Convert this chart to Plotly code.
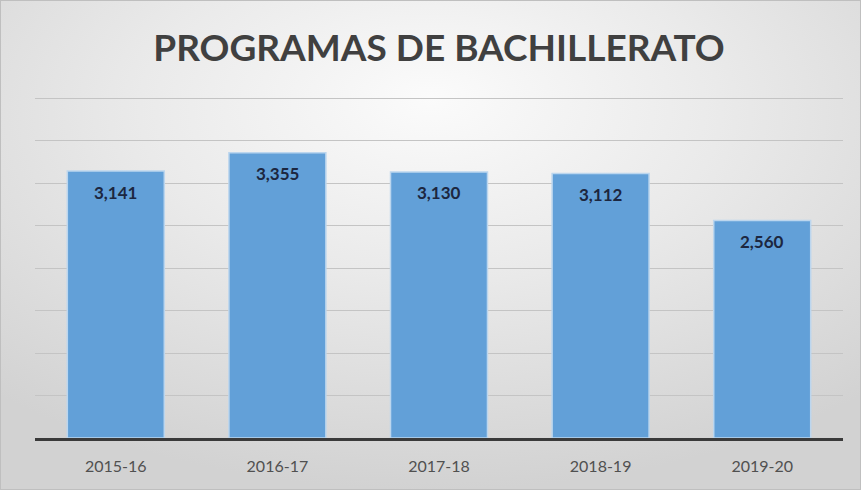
import base64

import plotly.graph_objects as go

categories = ["2015-16", "2016-17", "2017-18", "2018-19", "2019-20"]
values = [3141, 3355, 3130, 3112, 2560]
labels = [f"{v:,}" for v in values]

W, H = 861, 490
M = dict(l=35, r=18, t=93, b=52)
PW = W - M["l"] - M["r"]
PH = H - M["t"] - M["b"]
Y_TOP = PH / 0.085  # keeps 500 units ~ 42.5 px, leaves the 4000 gridline visible

# soft radial background, like the spreadsheet chart area
bg_svg = f"""<svg xmlns='http://www.w3.org/2000/svg' width='{W}' height='{H}'>
<defs><radialGradient id='g' cx='0.5' cy='0.25' r='0.75' fx='0.5' fy='0.2'>
<stop offset='0' stop-color='#fbfbfb'/>
<stop offset='0.45' stop-color='#eaeaea'/>
<stop offset='1' stop-color='#d2d2d2'/>
</radialGradient></defs>
<rect width='{W}' height='{H}' fill='url(#g)'/>
<rect x='0.5' y='0.5' width='{W - 1}' height='{H - 1}' fill='none' stroke='#bfbfbf'/>
</svg>"""
bg_uri = "data:image/svg+xml;base64," + base64.b64encode(bg_svg.encode()).decode()

fig = go.Figure(go.Bar(
    x=categories,
    y=values,
    marker=dict(color="#62a0d8", line=dict(color="#bcd6ee", width=1.5)),
    hoverinfo="skip",
))

# value labels inside the top of each bar
for cat, val, txt in zip(categories, values, labels):
    fig.add_annotation(
        x=cat, y=val, text=f"<b>{txt}</b>",
        showarrow=False, yanchor="middle", yshift=-21,
        font=dict(family="Lato", size=17, color="#1c2740"),
    )

fig.add_layout_image(dict(
    source=bg_uri, xref="paper", yref="paper",
    x=-M["l"] / PW, y=1 + M["t"] / PH,
    sizex=W / PW, sizey=H / PH,
    sizing="stretch", xanchor="left", yanchor="top", layer="below",
))

fig.update_layout(
    width=W, height=H,
    margin=M,
    paper_bgcolor="#e4e4e4",
    plot_bgcolor="rgba(0,0,0,0)",
    bargap=0.4,
    showlegend=False,
    title=dict(
        text="<b>PROGRAMAS DE BACHILLERATO</b>",
        x=0.5, xanchor="center", xref="paper",
        y=1 - 48 / H, yanchor="middle",
        font=dict(family="Lato", size=37, color="#404040"),
    ),
    xaxis=dict(
        showgrid=False, ticks="",
        showline=True, linecolor="#3a3a3a", linewidth=3,
        tickfont=dict(family="Lato", size=16, color="#505050"),
        ticklabelstandoff=12,
    ),
    yaxis=dict(
        range=[0, Y_TOP], dtick=500, showticklabels=False,
        gridcolor="#c4c4c4", gridwidth=1, zeroline=False,
    ),
)

fig.write_html(
    "out.html",
    config={"displayModeBar": False},
    post_script="document.body.style.margin='0';",
)
